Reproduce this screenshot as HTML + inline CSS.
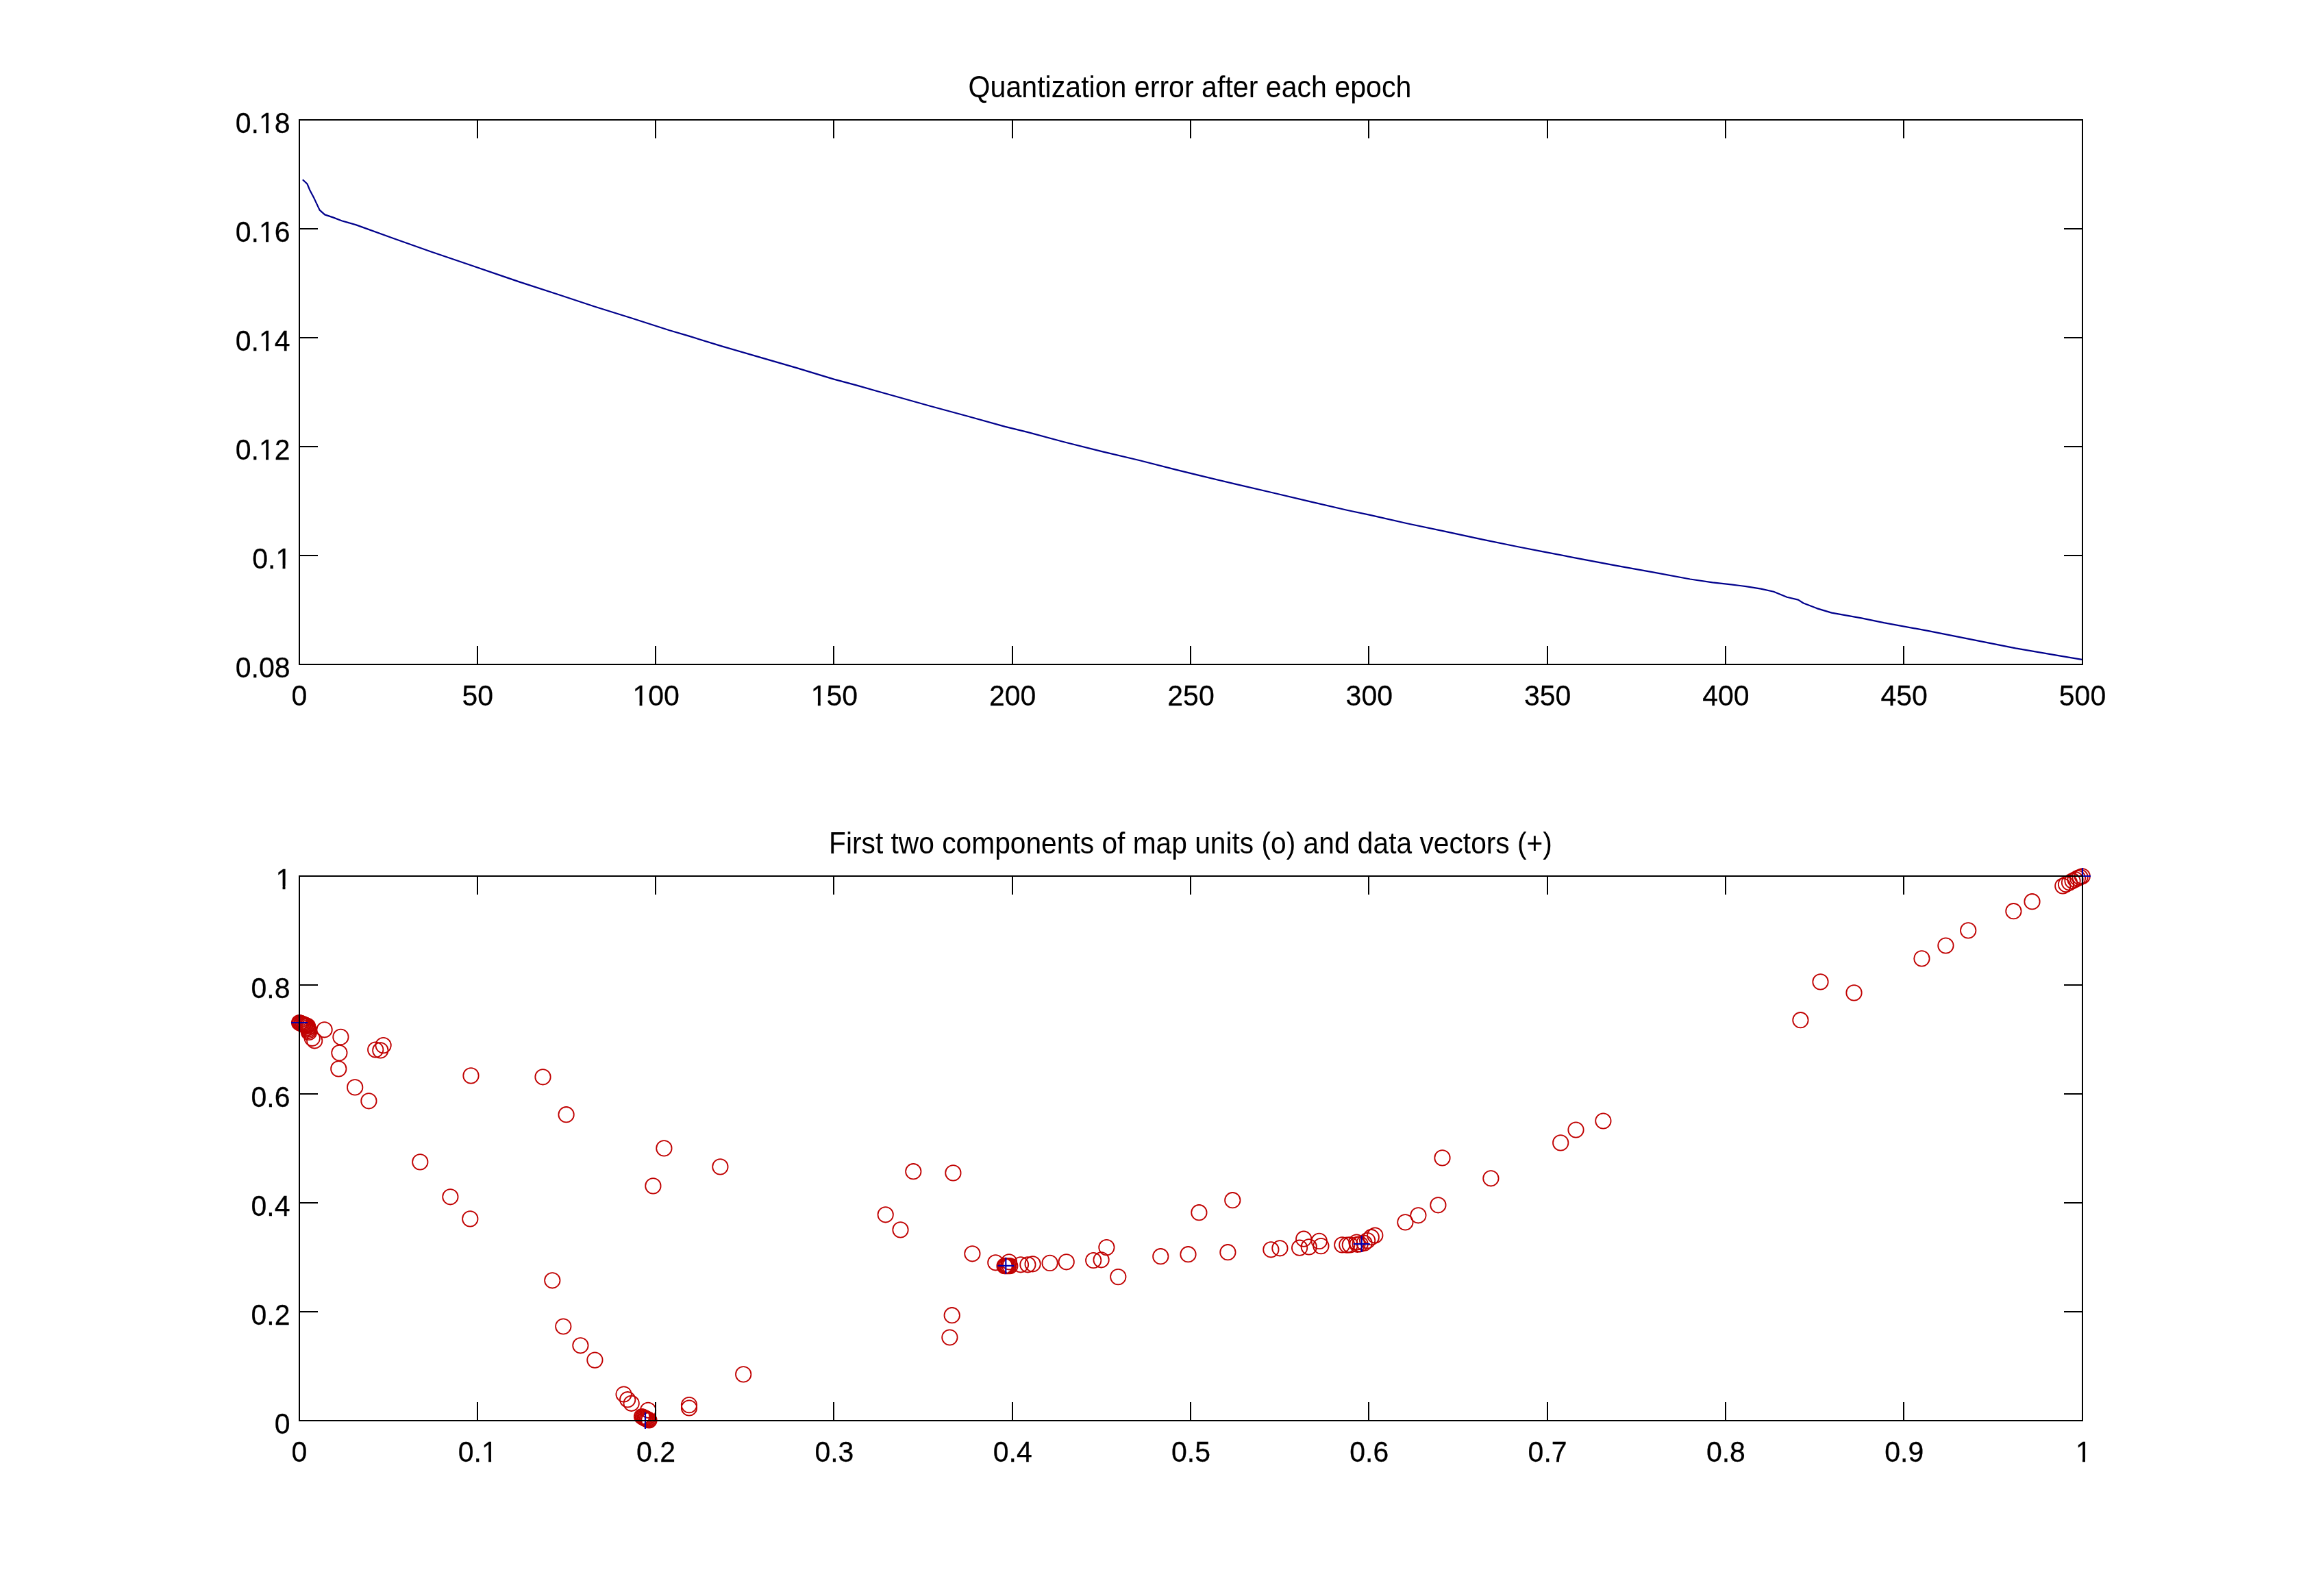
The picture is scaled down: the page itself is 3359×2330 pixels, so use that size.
<!DOCTYPE html><html><head><meta charset="utf-8"><style>html,body{margin:0;padding:0;background:#fff;}svg{display:block;will-change:transform}</style></head><body>
<svg width="3359" height="2330" viewBox="0 0 3359 2330">
<rect x="0" y="0" width="3359" height="2330" fill="#fff"/>
<polyline fill="none" stroke="#00008c" stroke-width="2.2" stroke-linejoin="round" points="441.8,262.3 448.5,268.5 452.5,278.1 458.6,289.6 466.6,306.6 474.1,313.4 486.1,317.4 498.7,322.2 520.0,328.4 574.3,348.0 628.6,367.2 683.0,385.7 737.3,404.4 760.0,412.1 814.3,429.8 868.6,447.7 923.0,464.8 977.3,482.3 1005.0,490.4 1054.3,505.6 1108.6,521.4 1163.0,537.1 1217.3,553.6 1250.0,562.4 1304.3,577.7 1358.6,593.0 1413.0,607.8 1467.3,622.9 1500.0,630.9 1554.3,645.5 1608.6,659.1 1663.0,672.0 1717.3,685.9 1750.0,693.9 1804.3,706.9 1858.6,719.5 1913.0,732.4 1967.3,745.0 2000.0,751.9 2054.3,764.2 2108.6,775.6 2163.0,787.3 2217.3,798.5 2250.0,804.9 2304.3,815.3 2358.6,825.7 2413.0,835.4 2467.3,845.5 2500.0,850.4 2527.2,853.4 2548.9,856.1 2570.6,859.6 2589.1,863.7 2608.6,871.8 2625.0,875.6 2632.6,880.5 2652.1,888.1 2673.8,894.6 2717.3,902.3 2750.0,909.2 2814.1,920.8 2878.2,933.6 2942.3,946.4 3006.4,957.3 3039.1,962.8"/>
<rect x="436" y="174" width="2605" height="2" fill="#000"/>
<rect x="436" y="969" width="2605" height="2" fill="#000"/>
<rect x="436" y="174" width="2" height="797" fill="#000"/>
<rect x="3039" y="174" width="2" height="797" fill="#000"/>
<rect x="436" y="943" width="2" height="28" fill="#000"/>
<rect x="436" y="174" width="2" height="28" fill="#000"/>
<text transform="translate(437.00 1030.00) scale(1.0000 1.060)" text-anchor="middle" font-family="Liberation Sans, sans-serif" font-size="41" fill="#000" stroke="#000" stroke-width="0.25">0</text>
<rect x="696" y="943" width="2" height="28" fill="#000"/>
<rect x="696" y="174" width="2" height="28" fill="#000"/>
<text transform="translate(697.30 1030.00) scale(1.0000 1.060)" text-anchor="middle" font-family="Liberation Sans, sans-serif" font-size="41" fill="#000" stroke="#000" stroke-width="0.25">50</text>
<rect x="956" y="943" width="2" height="28" fill="#000"/>
<rect x="956" y="174" width="2" height="28" fill="#000"/>
<text transform="translate(957.60 1030.00) scale(1.0000 1.060)" text-anchor="middle" font-family="Liberation Sans, sans-serif" font-size="41" fill="#000" stroke="#000" stroke-width="0.25">100</text>
<g transform="translate(957.60 1030.00) scale(1.0000 1.060)" fill="#fff"><rect x="-32.30" y="-4.10" width="8.25" height="5.51"/><rect x="-20.11" y="-4.10" width="8.03" height="5.51"/></g>
<rect x="1216" y="943" width="2" height="28" fill="#000"/>
<rect x="1216" y="174" width="2" height="28" fill="#000"/>
<text transform="translate(1217.90 1030.00) scale(1.0000 1.060)" text-anchor="middle" font-family="Liberation Sans, sans-serif" font-size="41" fill="#000" stroke="#000" stroke-width="0.25">150</text>
<g transform="translate(1217.90 1030.00) scale(1.0000 1.060)" fill="#fff"><rect x="-32.30" y="-4.10" width="8.25" height="5.51"/><rect x="-20.11" y="-4.10" width="8.03" height="5.51"/></g>
<rect x="1477" y="943" width="2" height="28" fill="#000"/>
<rect x="1477" y="174" width="2" height="28" fill="#000"/>
<text transform="translate(1478.20 1030.00) scale(1.0000 1.060)" text-anchor="middle" font-family="Liberation Sans, sans-serif" font-size="41" fill="#000" stroke="#000" stroke-width="0.25">200</text>
<rect x="1737" y="943" width="2" height="28" fill="#000"/>
<rect x="1737" y="174" width="2" height="28" fill="#000"/>
<text transform="translate(1738.50 1030.00) scale(1.0000 1.060)" text-anchor="middle" font-family="Liberation Sans, sans-serif" font-size="41" fill="#000" stroke="#000" stroke-width="0.25">250</text>
<rect x="1997" y="943" width="2" height="28" fill="#000"/>
<rect x="1997" y="174" width="2" height="28" fill="#000"/>
<text transform="translate(1998.80 1030.00) scale(1.0000 1.060)" text-anchor="middle" font-family="Liberation Sans, sans-serif" font-size="41" fill="#000" stroke="#000" stroke-width="0.25">300</text>
<rect x="2258" y="943" width="2" height="28" fill="#000"/>
<rect x="2258" y="174" width="2" height="28" fill="#000"/>
<text transform="translate(2259.10 1030.00) scale(1.0000 1.060)" text-anchor="middle" font-family="Liberation Sans, sans-serif" font-size="41" fill="#000" stroke="#000" stroke-width="0.25">350</text>
<rect x="2518" y="943" width="2" height="28" fill="#000"/>
<rect x="2518" y="174" width="2" height="28" fill="#000"/>
<text transform="translate(2519.40 1030.00) scale(1.0000 1.060)" text-anchor="middle" font-family="Liberation Sans, sans-serif" font-size="41" fill="#000" stroke="#000" stroke-width="0.25">400</text>
<rect x="2778" y="943" width="2" height="28" fill="#000"/>
<rect x="2778" y="174" width="2" height="28" fill="#000"/>
<text transform="translate(2779.70 1030.00) scale(1.0000 1.060)" text-anchor="middle" font-family="Liberation Sans, sans-serif" font-size="41" fill="#000" stroke="#000" stroke-width="0.25">450</text>
<rect x="3039" y="943" width="2" height="28" fill="#000"/>
<rect x="3039" y="174" width="2" height="28" fill="#000"/>
<text transform="translate(3040.00 1030.00) scale(1.0000 1.060)" text-anchor="middle" font-family="Liberation Sans, sans-serif" font-size="41" fill="#000" stroke="#000" stroke-width="0.25">500</text>
<rect x="436" y="174" width="28" height="2" fill="#000"/>
<rect x="3013" y="174" width="28" height="2" fill="#000"/>
<text transform="translate(423.50 194.00) scale(1.0000 1.060)" text-anchor="end" font-family="Liberation Sans, sans-serif" font-size="41" fill="#000" stroke="#000" stroke-width="0.25">0.18</text>
<g transform="translate(423.50 194.00) scale(1.0000 1.060)" fill="#fff"><rect x="-43.70" y="-4.10" width="8.25" height="5.51"/><rect x="-31.51" y="-4.10" width="8.03" height="5.51"/></g>
<rect x="436" y="333" width="28" height="2" fill="#000"/>
<rect x="3013" y="333" width="28" height="2" fill="#000"/>
<text transform="translate(423.50 353.00) scale(1.0000 1.060)" text-anchor="end" font-family="Liberation Sans, sans-serif" font-size="41" fill="#000" stroke="#000" stroke-width="0.25">0.16</text>
<g transform="translate(423.50 353.00) scale(1.0000 1.060)" fill="#fff"><rect x="-43.70" y="-4.10" width="8.25" height="5.51"/><rect x="-31.51" y="-4.10" width="8.03" height="5.51"/></g>
<rect x="436" y="492" width="28" height="2" fill="#000"/>
<rect x="3013" y="492" width="28" height="2" fill="#000"/>
<text transform="translate(423.50 512.00) scale(1.0000 1.060)" text-anchor="end" font-family="Liberation Sans, sans-serif" font-size="41" fill="#000" stroke="#000" stroke-width="0.25">0.14</text>
<g transform="translate(423.50 512.00) scale(1.0000 1.060)" fill="#fff"><rect x="-43.70" y="-4.10" width="8.25" height="5.51"/><rect x="-31.51" y="-4.10" width="8.03" height="5.51"/></g>
<rect x="436" y="651" width="28" height="2" fill="#000"/>
<rect x="3013" y="651" width="28" height="2" fill="#000"/>
<text transform="translate(423.50 671.00) scale(1.0000 1.060)" text-anchor="end" font-family="Liberation Sans, sans-serif" font-size="41" fill="#000" stroke="#000" stroke-width="0.25">0.12</text>
<g transform="translate(423.50 671.00) scale(1.0000 1.060)" fill="#fff"><rect x="-43.70" y="-4.10" width="8.25" height="5.51"/><rect x="-31.51" y="-4.10" width="8.03" height="5.51"/></g>
<rect x="436" y="810" width="28" height="2" fill="#000"/>
<rect x="3013" y="810" width="28" height="2" fill="#000"/>
<text transform="translate(425.20 830.00) scale(1.0000 1.060)" text-anchor="end" font-family="Liberation Sans, sans-serif" font-size="41" fill="#000" stroke="#000" stroke-width="0.25">0.1</text>
<g transform="translate(425.20 830.00) scale(1.0000 1.060)" fill="#fff"><rect x="-20.90" y="-4.10" width="8.25" height="5.51"/><rect x="-8.71" y="-4.10" width="8.03" height="5.51"/></g>
<rect x="436" y="969" width="28" height="2" fill="#000"/>
<rect x="3013" y="969" width="28" height="2" fill="#000"/>
<text transform="translate(423.50 989.00) scale(1.0000 1.060)" text-anchor="end" font-family="Liberation Sans, sans-serif" font-size="41" fill="#000" stroke="#000" stroke-width="0.25">0.08</text>
<text transform="translate(1737.00 142.00) scale(1.0030 1.060)" text-anchor="middle" font-family="Liberation Sans, sans-serif" font-size="41" fill="#000" stroke="#000" stroke-width="0.00">Quantization error after each epoch</text>
<g fill="none" stroke="#c00000" stroke-width="1.8">
<circle cx="437.0" cy="1493.0" r="11.2"/>
<circle cx="438.5" cy="1493.6" r="11.2"/>
<circle cx="440.0" cy="1494.2" r="11.2"/>
<circle cx="441.5" cy="1494.9" r="11.2"/>
<circle cx="443.0" cy="1495.5" r="11.2"/>
<circle cx="444.5" cy="1496.1" r="11.2"/>
<circle cx="446.0" cy="1496.8" r="11.2"/>
<circle cx="447.5" cy="1497.4" r="11.2"/>
<circle cx="449.0" cy="1498.0" r="11.2"/>
<circle cx="449.5" cy="1500.2" r="11.2"/>
<circle cx="450.0" cy="1502.5" r="11.2"/>
<circle cx="450.5" cy="1504.8" r="11.2"/>
<circle cx="451.0" cy="1507.0" r="11.2"/>
<circle cx="455.7" cy="1515.8" r="11.2"/>
<circle cx="459.2" cy="1519.3" r="11.2"/>
<circle cx="473.6" cy="1503.3" r="11.2"/>
<circle cx="497.4" cy="1513.9" r="11.2"/>
<circle cx="495.4" cy="1537.1" r="11.2"/>
<circle cx="494.3" cy="1560.4" r="11.2"/>
<circle cx="518.2" cy="1587.4" r="11.2"/>
<circle cx="538.4" cy="1607.3" r="11.2"/>
<circle cx="548.2" cy="1532.5" r="11.2"/>
<circle cx="555.3" cy="1533.4" r="11.2"/>
<circle cx="559.6" cy="1526.1" r="11.2"/>
<circle cx="613.3" cy="1696.4" r="11.2"/>
<circle cx="657.4" cy="1747.3" r="11.2"/>
<circle cx="686.3" cy="1779.4" r="11.2"/>
<circle cx="687.5" cy="1570.4" r="11.2"/>
<circle cx="792.5" cy="1572.3" r="11.2"/>
<circle cx="826.6" cy="1627.2" r="11.2"/>
<circle cx="806.3" cy="1869.3" r="11.2"/>
<circle cx="822.3" cy="1936.5" r="11.2"/>
<circle cx="847.4" cy="1964.3" r="11.2"/>
<circle cx="868.4" cy="1985.6" r="11.2"/>
<circle cx="910.6" cy="2035.5" r="11.2"/>
<circle cx="916.2" cy="2043.2" r="11.2"/>
<circle cx="921.7" cy="2048.8" r="11.2"/>
<circle cx="946.1" cy="2058.8" r="11.2"/>
<circle cx="937.0" cy="2068.0" r="11.2"/>
<circle cx="938.5" cy="2068.8" r="11.2"/>
<circle cx="940.0" cy="2069.6" r="11.2"/>
<circle cx="941.5" cy="2070.4" r="11.2"/>
<circle cx="943.0" cy="2071.1" r="11.2"/>
<circle cx="944.5" cy="2071.9" r="11.2"/>
<circle cx="946.0" cy="2072.7" r="11.2"/>
<circle cx="947.5" cy="2073.5" r="11.2"/>
<circle cx="1006.0" cy="2051.1" r="11.2"/>
<circle cx="1006.0" cy="2055.5" r="11.2"/>
<circle cx="969.4" cy="1676.4" r="11.2"/>
<circle cx="953.4" cy="1731.4" r="11.2"/>
<circle cx="1051.4" cy="1703.4" r="11.2"/>
<circle cx="1085.2" cy="2006.4" r="11.2"/>
<circle cx="1333.3" cy="1710.2" r="11.2"/>
<circle cx="1391.4" cy="1712.4" r="11.2"/>
<circle cx="1292.7" cy="1773.3" r="11.2"/>
<circle cx="1314.5" cy="1795.4" r="11.2"/>
<circle cx="1389.7" cy="1920.2" r="11.2"/>
<circle cx="1386.4" cy="1952.5" r="11.2"/>
<circle cx="1419.4" cy="1830.3" r="11.2"/>
<circle cx="1453.3" cy="1843.3" r="11.2"/>
<circle cx="1473.0" cy="1842.3" r="11.2"/>
<circle cx="1466.5" cy="1848.2" r="11.2"/>
<circle cx="1468.0" cy="1848.2" r="11.2"/>
<circle cx="1470.0" cy="1848.2" r="11.2"/>
<circle cx="1472.0" cy="1848.2" r="11.2"/>
<circle cx="1474.3" cy="1848.2" r="11.2"/>
<circle cx="1490.0" cy="1846.3" r="11.2"/>
<circle cx="1500.4" cy="1846.3" r="11.2"/>
<circle cx="1507.6" cy="1845.3" r="11.2"/>
<circle cx="1532.6" cy="1843.9" r="11.2"/>
<circle cx="1556.7" cy="1842.3" r="11.2"/>
<circle cx="1596.2" cy="1840.0" r="11.2"/>
<circle cx="1607.6" cy="1839.3" r="11.2"/>
<circle cx="1615.4" cy="1821.1" r="11.2"/>
<circle cx="1632.3" cy="1864.1" r="11.2"/>
<circle cx="1694.3" cy="1834.2" r="11.2"/>
<circle cx="1734.5" cy="1831.2" r="11.2"/>
<circle cx="1750.4" cy="1770.2" r="11.2"/>
<circle cx="1799.3" cy="1752.2" r="11.2"/>
<circle cx="1792.4" cy="1828.2" r="11.2"/>
<circle cx="1855.4" cy="1824.3" r="11.2"/>
<circle cx="1868.4" cy="1822.3" r="11.2"/>
<circle cx="1897.1" cy="1821.7" r="11.2"/>
<circle cx="1903.2" cy="1808.7" r="11.2"/>
<circle cx="1910.8" cy="1820.4" r="11.2"/>
<circle cx="1925.8" cy="1811.9" r="11.2"/>
<circle cx="1928.4" cy="1819.1" r="11.2"/>
<circle cx="1959.3" cy="1817.4" r="11.2"/>
<circle cx="1966.3" cy="1817.6" r="11.2"/>
<circle cx="1970.8" cy="1817.4" r="11.2"/>
<circle cx="1980.4" cy="1813.5" r="11.2"/>
<circle cx="1981.5" cy="1816.8" r="11.2"/>
<circle cx="1985.6" cy="1816.3" r="11.2"/>
<circle cx="1991.6" cy="1814.8" r="11.2"/>
<circle cx="1996.1" cy="1811.1" r="11.2"/>
<circle cx="2001.8" cy="1806.2" r="11.2"/>
<circle cx="2007.3" cy="1803.5" r="11.2"/>
<circle cx="2051.4" cy="1784.4" r="11.2"/>
<circle cx="2070.4" cy="1774.3" r="11.2"/>
<circle cx="2099.4" cy="1759.3" r="11.2"/>
<circle cx="2105.5" cy="1690.4" r="11.2"/>
<circle cx="2176.4" cy="1720.3" r="11.2"/>
<circle cx="2278.2" cy="1668.4" r="11.2"/>
<circle cx="2300.5" cy="1649.5" r="11.2"/>
<circle cx="2340.4" cy="1636.5" r="11.2"/>
<circle cx="2628.4" cy="1489.2" r="11.2"/>
<circle cx="2657.5" cy="1433.4" r="11.2"/>
<circle cx="2706.5" cy="1449.4" r="11.2"/>
<circle cx="2805.4" cy="1399.4" r="11.2"/>
<circle cx="2840.4" cy="1380.5" r="11.2"/>
<circle cx="2873.2" cy="1358.4" r="11.2"/>
<circle cx="2939.4" cy="1330.2" r="11.2"/>
<circle cx="2966.5" cy="1316.2" r="11.2"/>
<circle cx="3011.3" cy="1293.5" r="11.2"/>
<circle cx="3016.0" cy="1291.0" r="11.2"/>
<circle cx="3021.0" cy="1288.5" r="11.2"/>
<circle cx="3025.5" cy="1286.0" r="11.2"/>
<circle cx="3029.5" cy="1284.0" r="11.2"/>
<circle cx="3033.0" cy="1282.0" r="11.2"/>
<circle cx="3036.5" cy="1280.5" r="11.2"/>
<circle cx="3039.7" cy="1279.3" r="11.2"/>
</g>
<g stroke="#0000b0" stroke-width="2.2">
<path d="M425.0 1493.0H449.0M437.0 1481.0V1505.0"/>
<path d="M930.0 2074.0H954.0M942.0 2062.0V2086.0"/>
<path d="M1456.3 1847.8H1480.3M1468.3 1835.8V1859.8"/>
<path d="M1975.7 1816.1H1999.7M1987.7 1804.1V1828.1"/>
<path d="M3028.0 1279.0H3052.0M3040.0 1267.0V1291.0"/>
</g>
<rect x="436" y="1278" width="2605" height="2" fill="#000"/>
<rect x="436" y="2073" width="2605" height="2" fill="#000"/>
<rect x="436" y="1278" width="2" height="797" fill="#000"/>
<rect x="3039" y="1278" width="2" height="797" fill="#000"/>
<rect x="436" y="2047" width="2" height="28" fill="#000"/>
<rect x="436" y="1278" width="2" height="28" fill="#000"/>
<text transform="translate(437.00 2134.00) scale(1.0000 1.060)" text-anchor="middle" font-family="Liberation Sans, sans-serif" font-size="41" fill="#000" stroke="#000" stroke-width="0.25">0</text>
<rect x="696" y="2047" width="2" height="28" fill="#000"/>
<rect x="696" y="1278" width="2" height="28" fill="#000"/>
<text transform="translate(697.30 2134.00) scale(1.0000 1.060)" text-anchor="middle" font-family="Liberation Sans, sans-serif" font-size="41" fill="#000" stroke="#000" stroke-width="0.25">0.1</text>
<g transform="translate(697.30 2134.00) scale(1.0000 1.060)" fill="#fff"><rect x="7.60" y="-4.10" width="8.25" height="5.51"/><rect x="19.79" y="-4.10" width="8.03" height="5.51"/></g>
<rect x="956" y="2047" width="2" height="28" fill="#000"/>
<rect x="956" y="1278" width="2" height="28" fill="#000"/>
<text transform="translate(957.60 2134.00) scale(1.0000 1.060)" text-anchor="middle" font-family="Liberation Sans, sans-serif" font-size="41" fill="#000" stroke="#000" stroke-width="0.25">0.2</text>
<rect x="1216" y="2047" width="2" height="28" fill="#000"/>
<rect x="1216" y="1278" width="2" height="28" fill="#000"/>
<text transform="translate(1217.90 2134.00) scale(1.0000 1.060)" text-anchor="middle" font-family="Liberation Sans, sans-serif" font-size="41" fill="#000" stroke="#000" stroke-width="0.25">0.3</text>
<rect x="1477" y="2047" width="2" height="28" fill="#000"/>
<rect x="1477" y="1278" width="2" height="28" fill="#000"/>
<text transform="translate(1478.20 2134.00) scale(1.0000 1.060)" text-anchor="middle" font-family="Liberation Sans, sans-serif" font-size="41" fill="#000" stroke="#000" stroke-width="0.25">0.4</text>
<rect x="1737" y="2047" width="2" height="28" fill="#000"/>
<rect x="1737" y="1278" width="2" height="28" fill="#000"/>
<text transform="translate(1738.50 2134.00) scale(1.0000 1.060)" text-anchor="middle" font-family="Liberation Sans, sans-serif" font-size="41" fill="#000" stroke="#000" stroke-width="0.25">0.5</text>
<rect x="1997" y="2047" width="2" height="28" fill="#000"/>
<rect x="1997" y="1278" width="2" height="28" fill="#000"/>
<text transform="translate(1998.80 2134.00) scale(1.0000 1.060)" text-anchor="middle" font-family="Liberation Sans, sans-serif" font-size="41" fill="#000" stroke="#000" stroke-width="0.25">0.6</text>
<rect x="2258" y="2047" width="2" height="28" fill="#000"/>
<rect x="2258" y="1278" width="2" height="28" fill="#000"/>
<text transform="translate(2259.10 2134.00) scale(1.0000 1.060)" text-anchor="middle" font-family="Liberation Sans, sans-serif" font-size="41" fill="#000" stroke="#000" stroke-width="0.25">0.7</text>
<rect x="2518" y="2047" width="2" height="28" fill="#000"/>
<rect x="2518" y="1278" width="2" height="28" fill="#000"/>
<text transform="translate(2519.40 2134.00) scale(1.0000 1.060)" text-anchor="middle" font-family="Liberation Sans, sans-serif" font-size="41" fill="#000" stroke="#000" stroke-width="0.25">0.8</text>
<rect x="2778" y="2047" width="2" height="28" fill="#000"/>
<rect x="2778" y="1278" width="2" height="28" fill="#000"/>
<text transform="translate(2779.70 2134.00) scale(1.0000 1.060)" text-anchor="middle" font-family="Liberation Sans, sans-serif" font-size="41" fill="#000" stroke="#000" stroke-width="0.25">0.9</text>
<rect x="3039" y="2047" width="2" height="28" fill="#000"/>
<rect x="3039" y="1278" width="2" height="28" fill="#000"/>
<text transform="translate(3041.30 2134.00) scale(1.0000 1.060)" text-anchor="middle" font-family="Liberation Sans, sans-serif" font-size="41" fill="#000" stroke="#000" stroke-width="0.25">1</text>
<g transform="translate(3041.30 2134.00) scale(1.0000 1.060)" fill="#fff"><rect x="-9.50" y="-4.10" width="8.25" height="5.51"/><rect x="2.69" y="-4.10" width="8.03" height="5.51"/></g>
<rect x="436" y="1278" width="28" height="2" fill="#000"/>
<rect x="3013" y="1278" width="28" height="2" fill="#000"/>
<text transform="translate(425.20 1298.00) scale(1.0000 1.060)" text-anchor="end" font-family="Liberation Sans, sans-serif" font-size="41" fill="#000" stroke="#000" stroke-width="0.25">1</text>
<g transform="translate(425.20 1298.00) scale(1.0000 1.060)" fill="#fff"><rect x="-20.90" y="-4.10" width="8.25" height="5.51"/><rect x="-8.71" y="-4.10" width="8.03" height="5.51"/></g>
<rect x="436" y="1437" width="28" height="2" fill="#000"/>
<rect x="3013" y="1437" width="28" height="2" fill="#000"/>
<text transform="translate(423.50 1457.00) scale(1.0000 1.060)" text-anchor="end" font-family="Liberation Sans, sans-serif" font-size="41" fill="#000" stroke="#000" stroke-width="0.25">0.8</text>
<rect x="436" y="1596" width="28" height="2" fill="#000"/>
<rect x="3013" y="1596" width="28" height="2" fill="#000"/>
<text transform="translate(423.50 1616.00) scale(1.0000 1.060)" text-anchor="end" font-family="Liberation Sans, sans-serif" font-size="41" fill="#000" stroke="#000" stroke-width="0.25">0.6</text>
<rect x="436" y="1755" width="28" height="2" fill="#000"/>
<rect x="3013" y="1755" width="28" height="2" fill="#000"/>
<text transform="translate(423.50 1775.00) scale(1.0000 1.060)" text-anchor="end" font-family="Liberation Sans, sans-serif" font-size="41" fill="#000" stroke="#000" stroke-width="0.25">0.4</text>
<rect x="436" y="1914" width="28" height="2" fill="#000"/>
<rect x="3013" y="1914" width="28" height="2" fill="#000"/>
<text transform="translate(423.50 1934.00) scale(1.0000 1.060)" text-anchor="end" font-family="Liberation Sans, sans-serif" font-size="41" fill="#000" stroke="#000" stroke-width="0.25">0.2</text>
<rect x="436" y="2073" width="28" height="2" fill="#000"/>
<rect x="3013" y="2073" width="28" height="2" fill="#000"/>
<text transform="translate(423.50 2093.00) scale(1.0000 1.060)" text-anchor="end" font-family="Liberation Sans, sans-serif" font-size="41" fill="#000" stroke="#000" stroke-width="0.25">0</text>
<text transform="translate(1738.00 1246.00) scale(0.9934 1.060)" text-anchor="middle" font-family="Liberation Sans, sans-serif" font-size="41" fill="#000" stroke="#000" stroke-width="0.00">First two components of map units (o) and data vectors (+)</text>
</svg></body></html>
